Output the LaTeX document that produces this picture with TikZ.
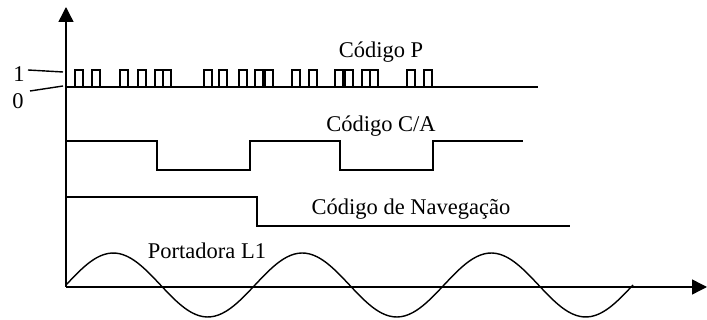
\documentclass[tikz,border=0pt]{standalone}
\usepackage{fontspec}
\setmainfont{Liberation Serif}
\usetikzlibrary{arrows.meta}

\begin{document}
\begin{tikzpicture}[x=0.02cm,y=-0.02cm,line width=0.8pt,every node/.style={font=\fontsize{12.8}{15}\selectfont,inner sep=0pt},axis/.style={-{Triangle[length=0.3cm,width=0.3cm]}},sig/.style={line join=miter},lbl/.style={anchor=base}]
\useasboundingbox (0,0) rectangle (707,320);
% axes
\coordinate (origin) at (66,287);
\coordinate (ytip) at (66,7);
\coordinate (xtip) at (707,287);
\draw[axis] (origin) -- (ytip);
\draw[axis] (origin) -- (xtip);
% levels 1 and 0
\node (one) at (19,74) {1};
\node (zero) at (18,101) {0};
\coordinate (onea) at (28,70);
\coordinate (oneb) at (63,72);
\coordinate (zeroa) at (30,91);
\coordinate (zerob) at (63,86);
\draw (onea) -- (oneb);
\draw (zeroa) -- (zerob);
% P code
\node[lbl] (pcode) at (381,58) {Código P};
\draw (66,87) -- (538,87);
\foreach \p in {75,92,120,138,155,163,204,219,239,255,265,292,309,335,345,362,370,407,424}
  \draw[sig] (\p,87) rectangle ++(8,-17);
% C/A code
\node[lbl] (cacode) at (381,132) {Código C/A};
\draw[sig] (65,141) -- (157,141) -- (157,170) -- (250,170) -- (250,141) -- (340,141)
  -- (340,170) -- (433,170) -- (433,141) -- (523,141);
% navigation code
\node[lbl] (navcode) at (411,215) {Código de Navegação};
\draw[sig] (65,197) -- (257,197) -- (257,226) -- (570,226);
% carrier
\node[lbl] (carrier) at (207,259) {Portadora L1};
\draw[domain=66:633,samples=150,smooth] plot (\x,{285-32*sin(1.9048*(\x-66))});
\end{tikzpicture}
\end{document}
